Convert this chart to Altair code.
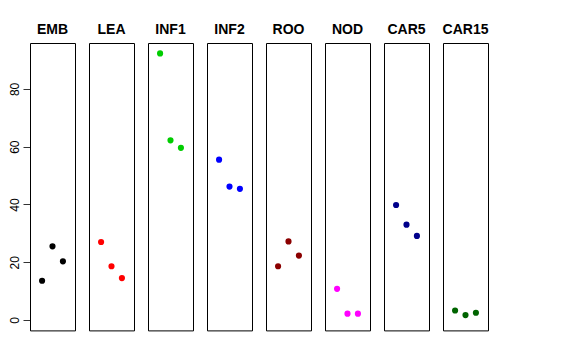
import altair as alt
import pandas as pd

panels = ["EMB", "LEA", "INF1", "INF2", "ROO", "NOD", "CAR5", "CAR15"]
colors = ["#000000", "#FF0000", "#00CD00", "#0000FF", "#8B0000", "#FF00FF", "#00008B", "#006400"]
positions = [1, 2, 3]
values = {
    "EMB": [13.6, 25.5, 20.3],
    "LEA": [27.0, 18.6, 14.5],
    "INF1": [92.3, 62.2, 59.6],
    "INF2": [55.5, 46.2, 45.4],
    "ROO": [18.6, 27.2, 22.3],
    "NOD": [10.8, 2.2, 2.2],
    "CAR5": [39.8, 33.0, 29.1],
    "CAR15": [3.3, 1.7, 2.5],
}

rows = []
for p in panels:
    for i, v in zip(positions, values[p]):
        rows.append({"panel": p, "pos": i, "value": v})
df = pd.DataFrame(rows)

base = alt.Chart(df).mark_circle(size=38, opacity=1).encode(
    x=alt.X("pos:Q", axis=None, scale=alt.Scale(domain=[-0.16, 4.16], nice=False, zero=False)),
    y=alt.Y(
        "value:Q",
        scale=alt.Scale(domain=[-3.6, 95.9], nice=False, zero=False),
        axis=alt.Axis(
            values=[0, 20, 40, 60, 80],
            title=None,
            grid=False,
            domain=False,
            tickSize=7,
            tickColor="#333333",
            labelAngle=270,
            labelAlign="center",
            labelBaseline="alphabetic",
            labelPadding=5,
            labelFontSize=12,
            labelFont="Liberation Sans",
            labelColor="#000000",
        ),
    ),
    color=alt.Color("panel:N", scale=alt.Scale(domain=panels, range=colors), legend=None),
).properties(width=45, height=287.4)

chart = base.facet(
    column=alt.Column(
        "panel:N",
        sort=panels,
        header=alt.Header(
            title=None,
            labelFont="Liberation Sans",
            labelFontSize=14,
            labelFontWeight="bold",
            labelColor="#000000",
            labelOrient="top",
            labelPadding=6,
        ),
    ),
    spacing=14,
    bounds="flush",
).configure_view(
    stroke="#000000", strokeWidth=1
).properties(
    padding={"left": 0, "top": 15, "right": 5, "bottom": 5}
)

chart.save("out.html", embed_options={"renderer": "svg", "actions": False})
